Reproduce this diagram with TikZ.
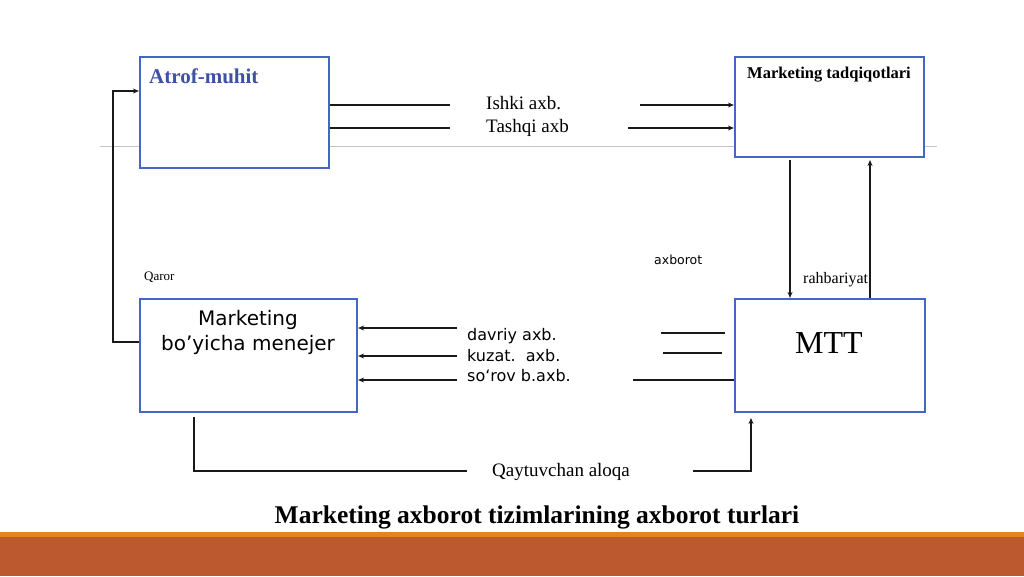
\documentclass[tikz,border=0pt]{standalone}
\usepackage{fontspec}
\setmainfont{Liberation Serif}
\newfontfamily\dvs{DejaVu Sans}
\usetikzlibrary{arrows.meta}
\definecolor{boxblue}{RGB}{70,102,196}
\definecolor{txtblue}{RGB}{63,81,163}
\definecolor{barorange}{RGB}{228,132,30}
\definecolor{barrust}{RGB}{189,89,46}
\definecolor{rulegray}{RGB}{196,196,196}
\tikzset{
  box/.style={draw=boxblue, line width=2.2pt, inner sep=0pt, fill=white},
  lbl/.style={inner sep=0pt, anchor=base west},
  lblc/.style={inner sep=0pt, anchor=base},
  conn/.style={line width=1.3pt, draw=black!90},
  arr/.style={conn, -{Stealth[length=6pt,width=5pt]}},
}
\begin{document}
\begin{tikzpicture}[x=1pt,y=-1pt]
\useasboundingbox (0,0) rectangle (1024,576);
% background bars
\fill[barorange] (0,532) rectangle (1024,537);
\fill[barrust] (0,537) rectangle (1024,576);
% gray rule
\draw[rulegray, line width=1.5pt] (100,146.5) -- (937,146.5);
% boxes
\node[box, minimum width=189pt, minimum height=111pt] (am) at (234.5,112.5) {};
\node[box, minimum width=189pt, minimum height=100pt] (mt) at (829.5,107) {};
\node[box, minimum width=217pt, minimum height=113pt] (mm) at (248.5,355.5) {};
\node[box, minimum width=190pt, minimum height=113pt] (mtt) at (830,355.5) {};
% box texts
\node[lbl, text=txtblue, font=\fontsize{21}{24}\selectfont\bfseries] (tam) at (149,83) {Atrof-muhit};
\node[lblc, font=\fontsize{16.5}{19}\selectfont\bfseries] (tmt) at (829,78) {Marketing tadqiqotlari};
\node[lblc, font=\dvs\fontsize{20}{24}\selectfont] (tmm1) at (248,325) {Marketing};
\node[lblc, font=\dvs\fontsize{20}{24}\selectfont] (tmm2) at (248,350) {bo’yicha menejer};
\node[lblc, font=\fontsize{32}{36}\selectfont] (tmtt) at (829,353) {MTT};
% labels
\node[lbl, font=\fontsize{19}{22}\selectfont] (ishki) at (486,109) {Ishki axb.};
\node[lbl, font=\fontsize{19}{22}\selectfont] (tashqi) at (486,132) {Tashqi axb};
\node[lbl, font=\dvs\fontsize{12.5}{15}\selectfont] (axb) at (654,264) {axborot};
\node[lbl, font=\fontsize{16}{19}\selectfont] (rah) at (803,283) {rahbariyat};
\node[lbl, font=\fontsize{13}{15}\selectfont] (qaror) at (144,280) {Qaror};
\node[lbl, font=\dvs\fontsize{16}{19}\selectfont] (davriy) at (467,340) {davriy axb.};
\node[lbl, font=\dvs\fontsize{16}{19}\selectfont] (kuzat) at (467,361) {kuzat.\ \ axb.};
\node[lbl, font=\dvs\fontsize{16}{19}\selectfont] (sorov) at (467,381) {so‘rov b.axb.};
\node[lbl, font=\fontsize{19}{22}\selectfont] (qayt) at (492,476) {Qaytuvchan aloqa};
\node[lblc, font=\fontsize{25.5}{28}\selectfont\bfseries] (title) at (537,523) {Marketing axborot tizimlarining axborot turlari};
% coordinates for free ends
\coordinate (i1) at (450,105);
\coordinate (i2) at (640,105);
\coordinate (t1) at (450,128);
\coordinate (t2) at (628,128);
\coordinate (d1) at (457,328);
\coordinate (k1) at (457,356);
\coordinate (s1) at (457,380);
\coordinate (m1a) at (661,333);
\coordinate (m1b) at (725,333);
\coordinate (m2a) at (663,353);
\coordinate (m2b) at (722,353);
\coordinate (m3) at (633,380);
\coordinate (dn) at (790,160);
\coordinate (up) at (870,160);
\coordinate (fbl) at (113,342);
\coordinate (fbt) at (113,91);
\coordinate (qs) at (194,417);
\coordinate (qe) at (467,471);
\coordinate (qs2) at (693,471);
\coordinate (qe2) at (751,418);
% connectors top
\draw[conn] (am.east |- i1) -- (i1);
\draw[conn] (am.east |- t1) -- (t1);
\draw[arr] (i2) -- (mt.west |- i2);
\draw[arr] (t2) -- (mt.west |- t2);
% vertical between MT and MTT
\draw[arr] (dn) -- (mtt.north -| dn);
\draw[arr] (mtt.north -| up) -- (up);
% arrows into menejer
\draw[arr] (d1) -- (mm.east |- d1);
\draw[arr] (k1) -- (mm.east |- k1);
\draw[arr] (s1) -- (mm.east |- s1);
% lines at MTT
\draw[conn] (m1a) -- (m1b);
\draw[conn] (m2a) -- (m2b);
\draw[conn] (m3) -- (mtt.west |- m3);
% decision feedback
\draw[arr] (mm.west |- fbl) -- (fbl) -- (fbt) -- (am.west |- fbt);
% bottom feedback
\draw[conn] (qs) -- (qs |- qe) -- (qe);
\draw[arr] (qs2) -- (qs2 -| qe2) -- (qe2);
\end{tikzpicture}
\end{document}
